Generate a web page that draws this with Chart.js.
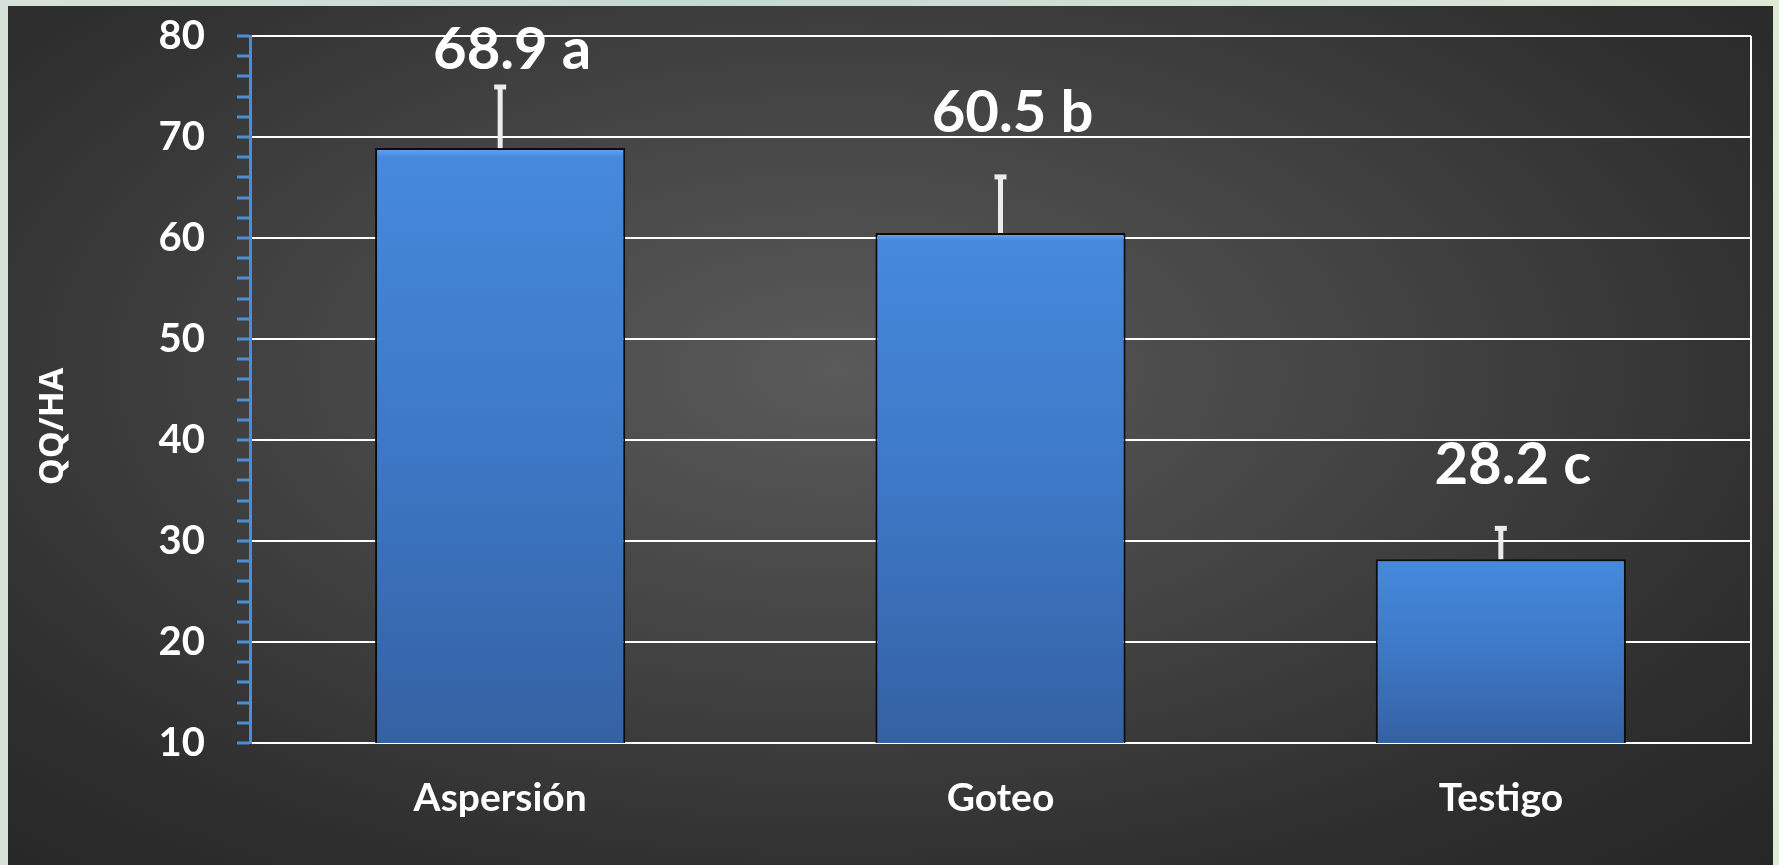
<!DOCTYPE html>
<html lang="es">
<head>
<meta charset="utf-8">
<title>QQ/HA por sistema de riego</title>
<script src="https://cdn.jsdelivr.net/npm/chart.js@4.4.1/dist/chart.umd.min.js"></script>
<style>
  html, body { margin: 0; padding: 0; }
  body {
    width: 1779px; height: 865px; overflow: hidden; position: relative;
    background: linear-gradient(90deg, #d6e2d8 0%, #c4d9d3 40%, #dfe9d6 100%);
  }
  #panel {
    position: absolute; left: 8px; top: 6px; width: 1765px; height: 870px;
    background: radial-gradient(ellipse 75% 80% at 47% 42%, #5a5a5a 0%, #444 40%, #2f2f2f 75%, #262626 100%);
  }
  #wrap { position: absolute; left: 0; top: 0; width: 1779px; height: 865px; }
</style>
</head>
<body>
<div id="panel"></div>
<div id="wrap"><canvas id="chart" width="1779" height="865"></canvas></div>
<script>
const categories = ['Aspersión', 'Goteo', 'Testigo'];
const yields = [68.9, 60.5, 28.2];
const errors = [6.1, 5.6, 3.1];
const letters = ['a', 'b', 'c'];
const axisTitle = 'QQ/HA';

const FONT = 'Lato, "Open Sans", sans-serif';
const BLUE_AXIS = '#4a8fd6';

function barFill(ctx) {
  const chart = ctx.chart;
  const area = chart.chartArea;
  if (!area) return '#3f7ccc';
  const y = chart.scales.y;
  const top = y.getPixelForValue(ctx.raw);
  const bottom = y.getPixelForValue(y.min);
  const g = chart.ctx.createLinearGradient(0, top, 0, bottom);
  g.addColorStop(0, '#6aa6ee');
  g.addColorStop(0.015, '#4689dc');
  g.addColorStop(0.5, '#3d78c6');
  g.addColorStop(1, '#3461a3');
  return g;
}

const errorBars = {
  id: 'errorBars',
  afterDatasetsDraw(chart) {
    const { ctx } = chart;
    const y = chart.scales.y;
    const meta = chart.getDatasetMeta(0);
    ctx.save();
    ctx.strokeStyle = '#ececec';
    ctx.fillStyle = '#ececec';
    meta.data.forEach((bar, i) => {
      const yTop = y.getPixelForValue(yields[i] + errors[i]);
      ctx.lineWidth = 5;
      ctx.beginPath();
      ctx.moveTo(bar.x, bar.y);
      ctx.lineTo(bar.x, yTop);
      ctx.stroke();
      ctx.fillRect(bar.x - 6, yTop - 2, 12, 5);
    });
    ctx.restore();
  }
};

const valueLabels = {
  id: 'valueLabels',
  afterDatasetsDraw(chart) {
    const { ctx } = chart;
    const y = chart.scales.y;
    const meta = chart.getDatasetMeta(0);
    ctx.save();
    ctx.font = `bold 58px ${FONT}`;
    ctx.fillStyle = '#ffffff';
    ctx.textAlign = 'center';
    ctx.textBaseline = 'middle';
    meta.data.forEach((bar, i) => {
      const errTop = y.getPixelForValue(yields[i] + errors[i]);
      const ty = Math.max(chart.chartArea.top + 14, errTop - 63);
      ctx.fillText(`${yields[i].toFixed(1)} ${letters[i]}`, bar.x + 12, ty);
    });
    ctx.restore();
  }
};

// axis title sits a bit below the plot centre, like the original slide
const yTitle = {
  id: 'yTitle',
  afterDraw(chart) {
    const { ctx, chartArea } = chart;
    ctx.save();
    ctx.translate(53, (chartArea.top + chartArea.bottom) / 2 + 37);
    ctx.rotate(-Math.PI / 2);
    ctx.font = 'bold 34px "Open Sans", sans-serif';
    ctx.fillStyle = '#ffffff';
    ctx.textAlign = 'center';
    ctx.textBaseline = 'middle';
    ctx.fillText(axisTitle, 0, 0);
    ctx.restore();
  }
};

new Chart(document.getElementById('chart'), {
  type: 'bar',
  data: {
    labels: categories,
    datasets: [{
      data: yields,
      backgroundColor: barFill,
      borderColor: '#0b0b0b',
      borderWidth: 2,
      borderSkipped: false,
      barPercentage: 0.5,
      categoryPercentage: 1
    }]
  },
  options: {
    responsive: false,
    animation: false,
    layout: { padding: { top: 36, right: 28, bottom: 0, left: 0 } },
    plugins: { legend: { display: false }, tooltip: { enabled: false } },
    scales: {
      x: {
        afterFit: s => { s.height = 122; },
        grid: {
          drawTicks: false,
          color: c => c.type === 'tick' ? 'transparent' : '#ffffff',
          lineWidth: 2
        },
        border: { color: '#ffffff', width: 2 },
        ticks: {
          color: '#ffffff',
          font: { family: FONT, size: 39, weight: 'bold' },
          padding: 32
        }
      },
      y: {
        min: 10,
        max: 80,
        afterFit: s => {
          s.width = 250;
          s.paddingTop = 0;
          s.paddingBottom = 0;
        },
        grid: {
          color: c => (c.tick && c.tick.value % 10 === 0) ? '#ffffff' : 'transparent',
          lineWidth: 2,
          tickColor: BLUE_AXIS,
          tickWidth: 3,
          tickLength: 13
        },
        border: { color: BLUE_AXIS, width: 3 },
        ticks: {
          stepSize: 2,
          autoSkip: false,
          color: '#ffffff',
          font: { family: FONT, size: 40, weight: 'bold' },
          padding: 32,
          callback: v => v % 10 === 0 ? v : ''
        }
      }
    }
  },
  plugins: [errorBars, valueLabels, yTitle]
});
</script>
</body>
</html>
